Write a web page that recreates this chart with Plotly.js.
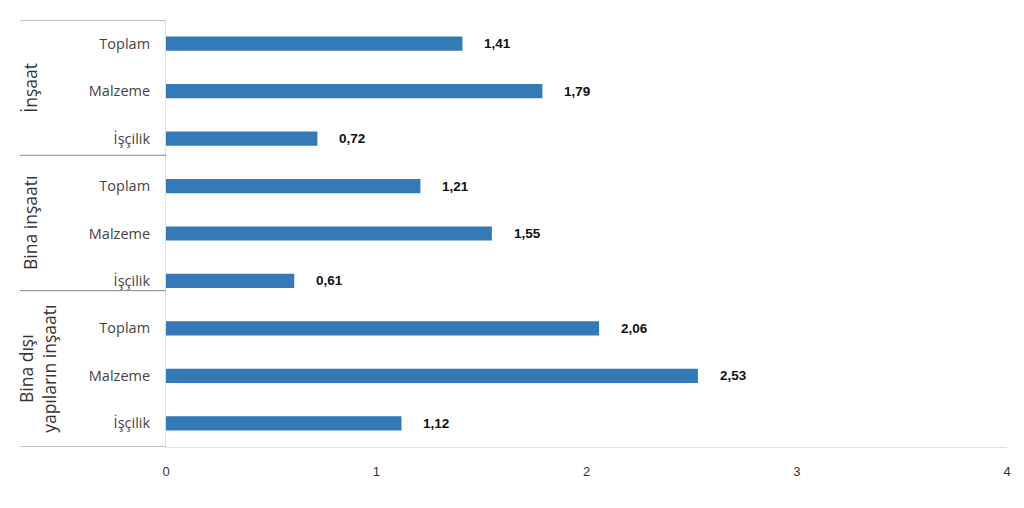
<!DOCTYPE html>
<html>
<head>
<meta charset="utf-8">
<script src="https://cdn.plot.ly/plotly-3.0.1.min.js"></script>
<style>html,body{margin:0;padding:0;background:#fff;}#chart{width:1024px;height:508px;}</style>
</head>
<body>
<div id="chart"></div>
<script>
const groups = ["İnşaat", "Bina inşaatı", "Bina dışı<br>yapıların inşaatı"];
const categories = ["Toplam", "Malzeme", "İşçilik", "Toplam", "Malzeme", "İşçilik", "Toplam", "Malzeme", "İşçilik"];
const values = [1.41, 1.79, 0.72, 1.21, 1.55, 0.61, 2.06, 2.53, 1.12];
const xTicks = [0, 1, 2, 3, 4];

const pos = categories.map((c, i) => i);
const fmt = v => v.toFixed(2).replace('.', ',');

const L = 166, R = 1007;
const px2paper = p => (p - L) / (R - L);

// group boundaries as drawn in the reference (row units)
const bounds = [-0.5, 2.352, 5.205, 8.5];

const trace = {
  type: 'bar',
  orientation: 'h',
  x: values,
  y: pos,
  width: 0.3,
  marker: {color: '#337ab7'},
  hoverinfo: 'none'
};

const annotations = values.map((v, i) => ({
  x: v, y: i, xref: 'x', yref: 'y',
  text: '<b>' + fmt(v) + '</b>',
  showarrow: false, xanchor: 'left', xshift: 20,
  font: {family: 'Liberation Sans, Arial, sans-serif', size: 13.5, color: '#111'}
}));

groups.forEach((g, gi) => {
  annotations.push({
    x: px2paper(gi === 2 ? 38 : 30), xref: 'paper',
    y: (bounds[gi] + bounds[gi + 1]) / 2, yref: 'y',
    text: g, showarrow: false, textangle: -90,
    xanchor: 'center', yanchor: 'middle',
    font: {family: 'Open Sans, sans-serif', size: 17.5, color: '#333'}
  });
});

const shapes = bounds.map(b => ({
  type: 'line', xref: 'paper', yref: 'y',
  x0: px2paper(20), x1: 0, y0: b, y1: b,
  line: {color: '#888', width: 1}
}));

const layout = {
  width: 1024, height: 508,
  margin: {l: L, r: 1024 - R, t: 20, b: 61},
  paper_bgcolor: '#fff', plot_bgcolor: '#fff',
  showlegend: false,
  xaxis: {
    range: [0, 4], tickvals: xTicks, ticktext: xTicks.map(String),
    showgrid: false, zeroline: false,
    showline: true, linecolor: '#e0e0e0', linewidth: 1,
    ticks: 'outside', ticklen: 12, tickcolor: 'rgba(0,0,0,0)',
    tickfont: {family: 'Liberation Sans, Arial, sans-serif', size: 13, color: '#333'},
    fixedrange: true
  },
  yaxis: {
    range: [8.5, -0.5],
    tickvals: pos, ticktext: categories,
    showgrid: false, zeroline: false,
    showline: true, linecolor: '#e0e0e0', linewidth: 1,
    ticks: 'outside', ticklen: 12, tickcolor: 'rgba(0,0,0,0)',
    tickfont: {family: 'Open Sans, sans-serif', size: 14.5, color: '#444', weight: 500},
    fixedrange: true
  },
  annotations: annotations,
  shapes: shapes
};

Plotly.newPlot('chart', [trace], layout, {displayModeBar: false, staticPlot: true});
</script>
</body>
</html>
